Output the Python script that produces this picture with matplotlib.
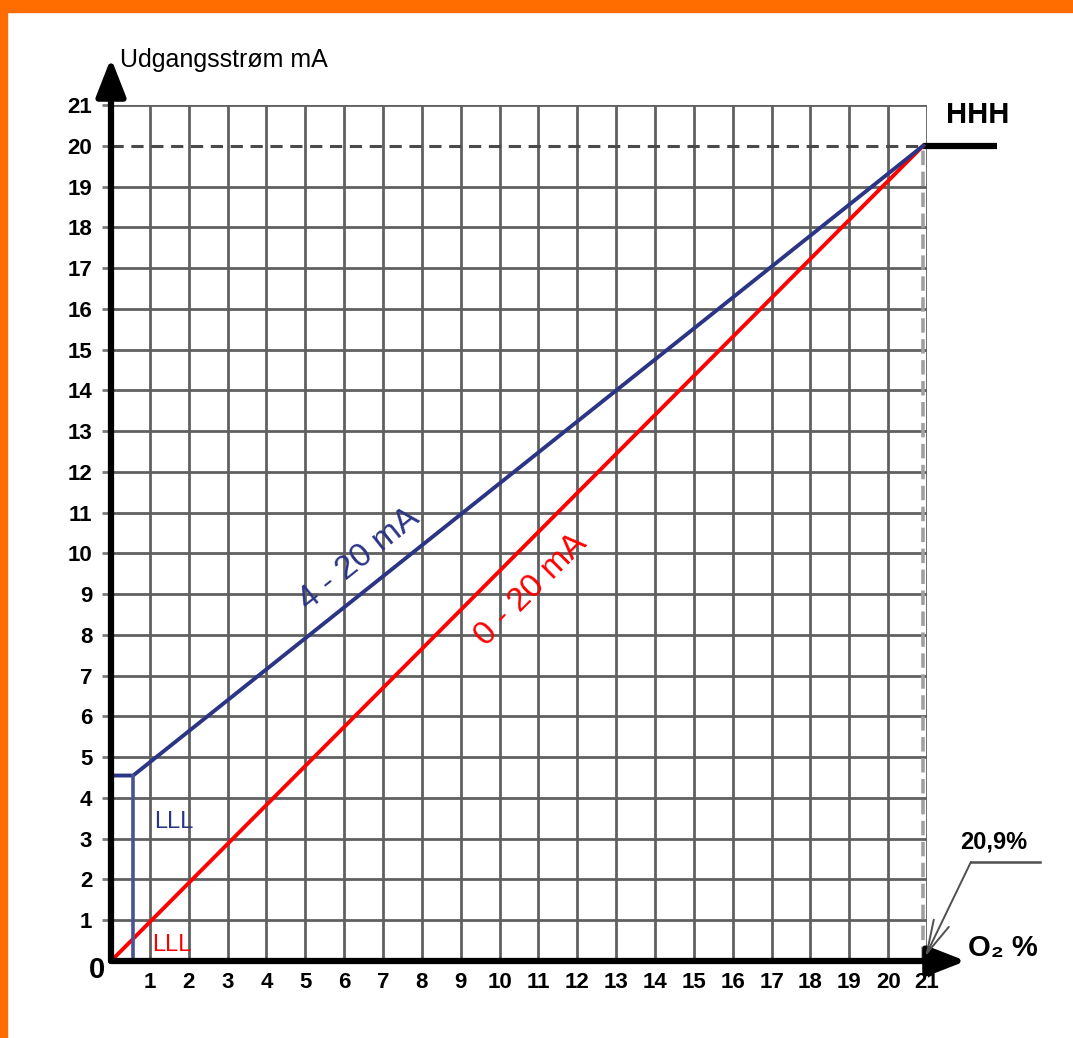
import matplotlib.pyplot as plt
from matplotlib.patches import Rectangle

plt.rcParams['font.family'] = ['Liberation Sans', 'DejaVu Sans']

# 0 - 20 mA line (red)
red_x = [0, 20.9]
red_y = [0, 20]

# 4 - 20 mA line (blue), with the LLL step at the start
blue_x = [0, 0.57, 20.9]
blue_y = [4.55, 4.55, 20]
blue_lll_x = [0.57, 0.57]
blue_lll_y = [0, 4.55]

hhh_level = 20
o2_full = 20.9
ticks = list(range(1, 22))

fig = plt.figure(figsize=(10.73, 10.38), dpi=100)
ax = fig.add_axes([111 / 1073, 77 / 1038, 816 / 1073, 856 / 1038])
ax.set_xlim(0, 21)
ax.set_ylim(0, 21)

# orange frame on top and left
fig.patches.append(Rectangle((0, 1 - 12 / 1038), 1, 12 / 1038, transform=fig.transFigure,
                             color='#ff6c00', zorder=10))
fig.patches.append(Rectangle((0, 0), 7 / 1073, 1, transform=fig.transFigure,
                             color='#ff6c00', zorder=10))

for s in ax.spines.values():
    s.set_visible(False)

ax.set_xticks(ticks)
ax.set_yticks(ticks)
ax.set_xticklabels([str(t) for t in ticks], fontsize=16, fontweight='bold')
ax.set_yticklabels([str(t) for t in ticks], fontsize=16, fontweight='bold')
ax.tick_params(axis='x', length=0, pad=8)
ax.tick_params(axis='y', length=6.5, width=2, color='#7a7a7a', pad=7)
ax.grid(True, color='#606060', lw=2.0)
ax.set_axisbelow(True)
ax.yaxis.get_gridlines()[hhh_level - 1].set_visible(False)

# dashed reference lines
ax.plot([0, o2_full], [hhh_level, hhh_level], color='#4a4a4a', lw=2.2, ls=(0, (4, 2.5)), zorder=2)
ax.plot([o2_full, o2_full], [0, hhh_level], color='#a0a0a0', lw=2.6, ls=(0, (4, 1.8)), zorder=2)

# HHH bar
ax.plot([o2_full, 22.8], [hhh_level, hhh_level], color='black', lw=4.5, solid_capstyle='butt',
        clip_on=False, zorder=4)
ax.text(22.3, 20.4, 'HHH', fontsize=21, fontweight='bold', ha='center', va='bottom')

# data lines
ax.plot(red_x, red_y, color='#ff0000', lw=2.8, zorder=4)
ax.plot(blue_x, blue_y, color='#2b3585', lw=2.8, zorder=4)
ax.plot(blue_lll_x, blue_lll_y, color='#4a5296', lw=2.6, zorder=4)

ax.text(6.4, 9.85, '4 - 20 mA', fontsize=24, color='#2b3585', rotation=38.6,
        ha='center', va='center', rotation_mode='anchor')
ax.text(10.8, 9.1, '0 - 20 mA', fontsize=24, color='#ff0000', rotation=45,
        ha='center', va='center', rotation_mode='anchor')
ax.text(1.12, 3.42, 'LLL', fontsize=17, color='#2b3585', ha='left', va='center')
ax.text(1.05, 0.4, 'LLL', fontsize=17, color='#ff0000', ha='left', va='center')

# axes with arrows
arrow = dict(arrowstyle='-|>,head_length=1.15,head_width=0.45', lw=4.5, color='black',
             shrinkA=0, shrinkB=0, mutation_scale=20)
ax.annotate('', xy=(0, 22.15), xytext=(0, 0), arrowprops=arrow, annotation_clip=False, zorder=6)
ax.annotate('', xy=(22.0, 0), xytext=(0, 0), arrowprops=arrow, annotation_clip=False, zorder=6)

ax.text(0.23, 22.1, 'Udgangsstrøm mA', fontsize=18, ha='left', va='center')
ax.text(-0.36, -0.22, '0', fontsize=21, fontweight='bold', ha='center', va='center')
ax.text(22.95, 0.32, 'O\u2082 %', fontsize=21, fontweight='bold', ha='center', va='center')

# 20,9% callout
ax.text(22.72, 2.92, '20,9%', fontsize=17, fontweight='bold', ha='center', va='center')
ax.plot([22.13, 23.9], [2.43, 2.43], color='#505050', lw=1.8, clip_on=False)
ax.annotate('', xy=(20.95, 0.1), xytext=(22.13, 2.43),
            arrowprops=dict(arrowstyle='->,head_length=1.2,head_width=0.3', lw=1.4,
                            color='#505050', shrinkA=0, shrinkB=0, mutation_scale=20),
            annotation_clip=False, zorder=6)

fig.savefig('out.png', dpi=100)
